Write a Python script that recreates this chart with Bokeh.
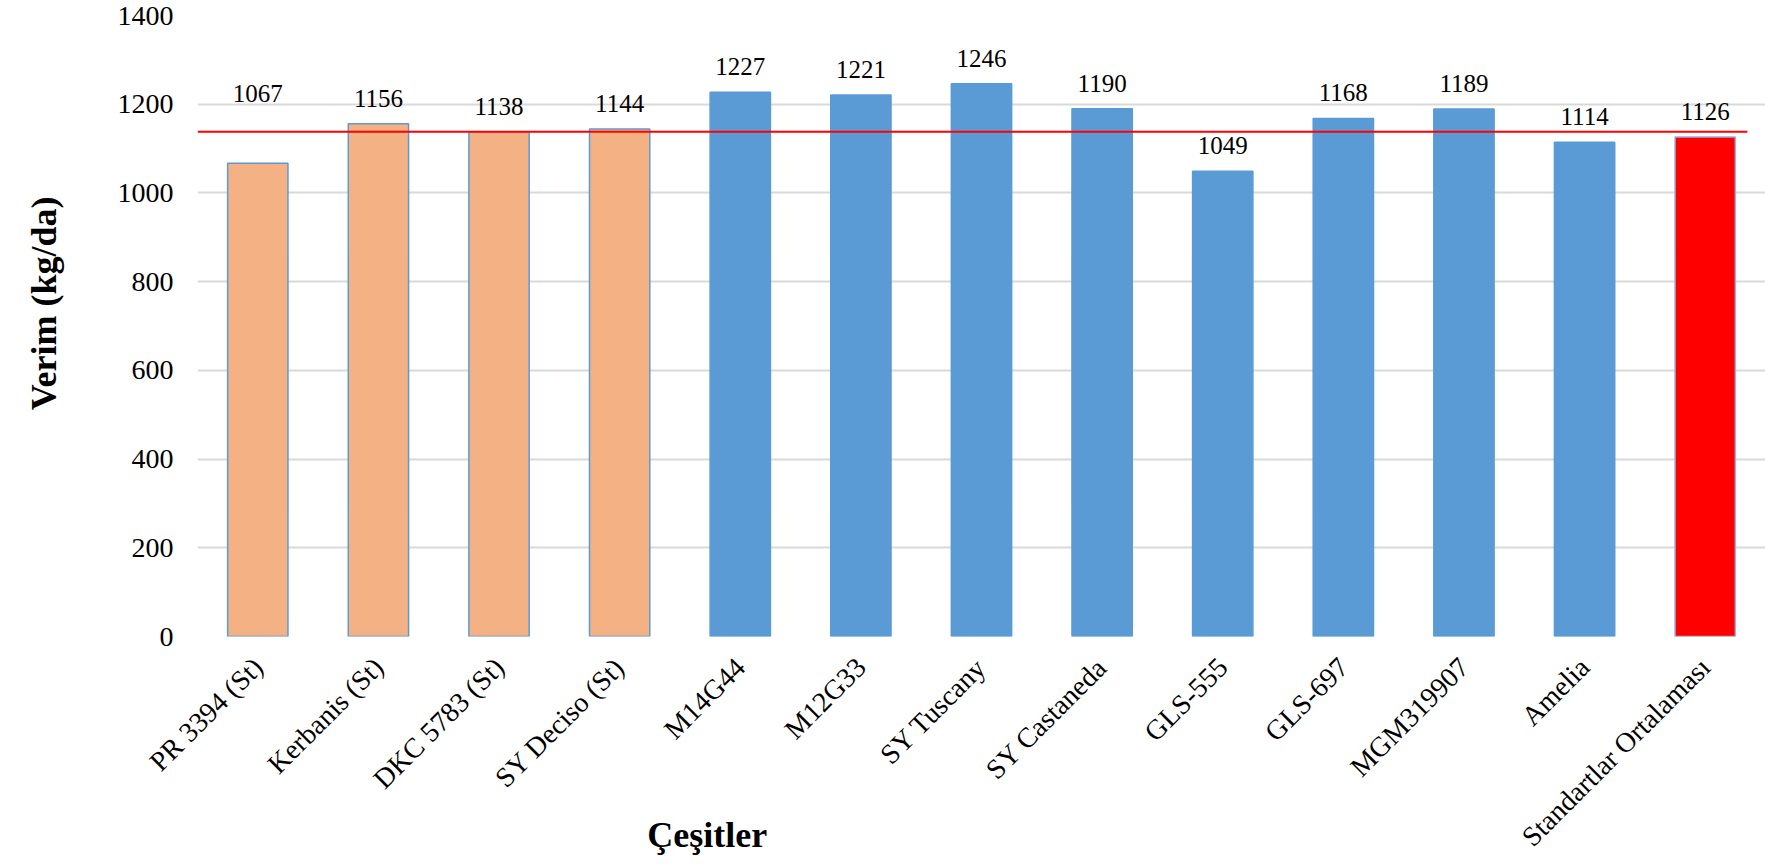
import math
from bokeh.plotting import figure
from bokeh.models import (ColumnDataSource, FactorRange, Range1d, LabelSet,
                          Arrow, FixedTicker, LinearAxis, PrintfTickFormatter)
from bokeh.embed import file_html
from bokeh.resources import INLINE

# ---- data ----
categories = ["PR 3394 (St)", "Kerbanis (St)", "DKC 5783 (St)", "SY Deciso (St)",
              "M14G44", "M12G33", "SY Tuscany", "SY Castaneda", "GLS-555",
              "GLS-697", "MGM319907", "Amelia", "Standartlar Ortalaması"]
yields = [1067, 1156, 1138, 1144, 1227, 1221, 1246, 1190, 1049, 1168, 1189, 1114, 1126]
groups = ["standard"] * 4 + ["candidate"] * 8 + ["mean"]
reference_line = 1138
y_ticks = [0, 200, 400, 600, 800, 1000, 1200, 1400]
x_title = "Çeşitler"
y_title = "Verim (kg/da)"

# ---- styling / layout ----
FONT = "Liberation Serif"
fill_map = {"standard": "#F4B183", "candidate": "#5B9BD5", "mean": "#FF0000"}
line_map = {"standard": "#5B9BD5", "candidate": "#5B9BD5", "mean": "#8FB4E0"}

W, H = 1765, 866
FRAME_LEFT, FRAME_TOP, FRAME_BOTTOM = 196, 15, 636
px_per_unit = (FRAME_BOTTOM - FRAME_TOP) / y_ticks[-1]
px_per_cat = (W - FRAME_LEFT) / len(categories)
YTITLE_TOP_PX = 196      # screen y where the rotated y title ends
XTITLE_CENTER_PX = 706   # screen x of the x title centre

p = figure(width=W, height=H, x_range=FactorRange(*categories, range_padding=0),
           y_range=Range1d(0, y_ticks[-1]), output_backend="svg", toolbar_location=None,
           min_border_left=FRAME_LEFT, min_border_right=0,
           min_border_top=FRAME_TOP, min_border_bottom=H - FRAME_BOTTOM)
p.outline_line_color = None
p.background_fill_color = "white"
p.border_fill_color = "white"
p.extra_y_ranges = {"title": Range1d(0, 1)}

src = ColumnDataSource(dict(
    cat=categories, val=yields,
    fill=[fill_map[g] for g in groups],
    line=[line_map[g] for g in groups],
))
p.vbar(x="cat", top="val", width=0.5, source=src, fill_color="fill",
       line_color="line", line_width=1.5)

# data labels: fixed gap above bar; lifted above the red line if they would cross it
LABEL_GAP = 17
LABEL_H = 19
LIFT = 30
lab_y, lab_off = [], []
for v in yields:
    if v + LABEL_GAP / px_per_unit < reference_line < v + (LABEL_GAP + LABEL_H) / px_per_unit:
        lab_y.append(reference_line)
        lab_off.append(LIFT)
    else:
        lab_y.append(v)
        lab_off.append(LABEL_GAP)
lsrc = ColumnDataSource(dict(cat=categories, y=lab_y, off=lab_off,
                             txt=[str(v) for v in yields]))
p.add_layout(LabelSet(x="cat", y="y", text="txt", y_offset="off", source=lsrc,
                      text_align="center", text_baseline="alphabetic",
                      text_font=FONT, text_font_size="25px", text_color="black"))

# reference line
p.add_layout(Arrow(x_start=0, y_start=reference_line,
                   x_end=len(categories) - 0.15, y_end=reference_line,
                   start=None, end=None, line_color="#FF0000", line_width=2))


def bare(axis):
    axis.axis_line_color = None
    axis.major_tick_out = 0
    axis.major_tick_in = 0
    axis.minor_tick_out = 0
    axis.minor_tick_in = 0
    axis.major_label_text_color = "black"
    axis.major_label_text_font = FONT


# y axis
p.yaxis.ticker = FixedTicker(ticks=y_ticks)
bare(p.yaxis[0])
p.yaxis.major_label_text_font_size = "28px"
p.yaxis.major_label_standoff = 24

# x axis
bare(p.xaxis[0])
p.xaxis.major_label_orientation = math.pi / 4
p.xaxis.major_label_text_font_size = "28px"
p.xaxis.major_label_standoff = 26

p.xgrid.grid_line_color = None
p.ygrid.grid_line_color = "#D9D9D9"
p.ygrid.grid_line_width = 2

# axis titles, placed as single labels on layout-only axes
ytitle_axis = LinearAxis(y_range_name="title",
                         ticker=FixedTicker(ticks=[(FRAME_BOTTOM - YTITLE_TOP_PX) / (FRAME_BOTTOM - FRAME_TOP)]),
                         formatter=PrintfTickFormatter(format=y_title))
bare(ytitle_axis)
ytitle_axis.major_label_orientation = math.pi / 2
ytitle_axis.major_label_text_font_size = "36px"
ytitle_axis.major_label_text_font_style = "bold"
ytitle_axis.major_label_standoff = 71
p.add_layout(ytitle_axis, "left")

xtitle_axis = LinearAxis(ticker=FixedTicker(ticks=[(XTITLE_CENTER_PX - FRAME_LEFT) / px_per_cat]),
                         formatter=PrintfTickFormatter(format=x_title))
bare(xtitle_axis)
xtitle_axis.major_label_text_font_size = "36px"
xtitle_axis.major_label_text_font_style = "bold"
xtitle_axis.major_label_standoff = -52
p.add_layout(xtitle_axis, "below")

open("out.html", "w").write(file_html(p, INLINE))
